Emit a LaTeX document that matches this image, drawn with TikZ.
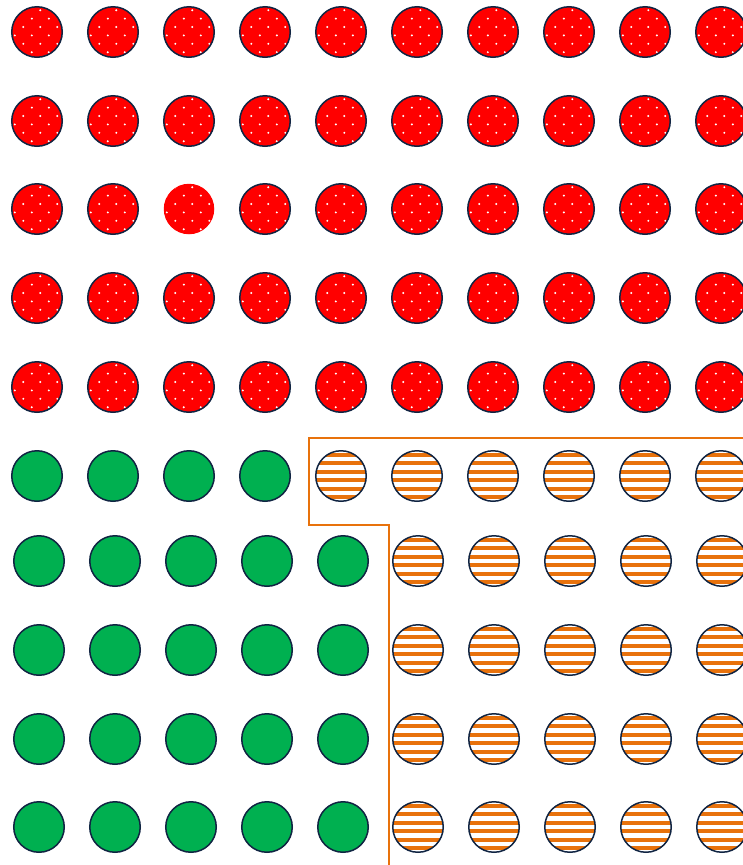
\documentclass[tikz,border=0pt]{standalone}
\definecolor{navy}{RGB}{16,36,66}
\definecolor{myred}{RGB}{255,0,0}
\definecolor{mygreen}{RGB}{0,176,80}
\definecolor{myorange}{RGB}{232,114,12}
\tikzset{
  base/.style={circle, minimum size=50.5pt, inner sep=0pt, line width=1.5pt, draw=navy},
  redc/.style={base, fill=myred, path picture={
    \foreach \a in {-2,...,2}{\foreach \b in {-2,...,2}{
      \fill[white] ([shift={(3.3+17*\a,-5+16.8*\b)}]path picture bounding box.center) circle (1.1pt);
      \fill[white] ([shift={(3.3+8.5+17*\a,-5+8.4+16.8*\b)}]path picture bounding box.center) circle (1.1pt);
    }}}},
  redn/.style={redc, draw=none},
  greenc/.style={base, fill=mygreen},
  stripec/.style={base, fill=white, path picture={
    \foreach \k in {-3,...,2}{
      \fill[myorange] ([shift={(-30,4.2+8.4*\k-2)}]path picture bounding box.center) rectangle ([shift={(30,4.2+8.4*\k+2)}]path picture bounding box.center);
    }}},
  fence/.style={draw=myorange, line width=2pt}
}
\begin{document}
\begin{tikzpicture}[x=1pt,y=-1pt]
\useasboundingbox (0,0) rectangle (743,865);
% red rows
\foreach \y [count=\r] in {32,121,209,298,387}{
  \foreach \x [count=\c] in {37,113,189,265,341,417,493,569,645,721}{
    \ifnum\r=3 \ifnum\c=3
      \node[redn] (r-\r-\c) at (\x,\y) {};
    \else
      \node[redc] (r-\r-\c) at (\x,\y) {};
    \fi\else
      \node[redc] (r-\r-\c) at (\x,\y) {};
    \fi
  }
}
% row 6
\foreach \x [count=\c] in {37,113,189,265}{
  \node[greenc] (g-6-\c) at (\x,476) {};
}
\foreach \x [count=\c] in {341,417,493,569,645,721}{
  \node[stripec] (s-6-\c) at (\x,476) {};
}
% rows 7-10
\foreach \y [count=\r from 7] in {561,650,739,827}{
  \foreach \x [count=\c] in {39,115,191,267,343}{
    \node[greenc] (g-\r-\c) at (\x,\y) {};
  }
  \foreach \x [count=\c] in {418,494,570,646,722}{
    \node[stripec] (s-\r-\c) at (\x,\y) {};
  }
}
% fence
\coordinate (f1) at (745,437.5);
\coordinate (f2) at (309,437.5);
\coordinate (f3) at (309,525);
\coordinate (f4) at (388.5,525);
\coordinate (f5) at (388.5,867);
\draw[fence] (f1) -- (f2) -- (f3) -- (f4) -- (f5);
\end{tikzpicture}
\end{document}
